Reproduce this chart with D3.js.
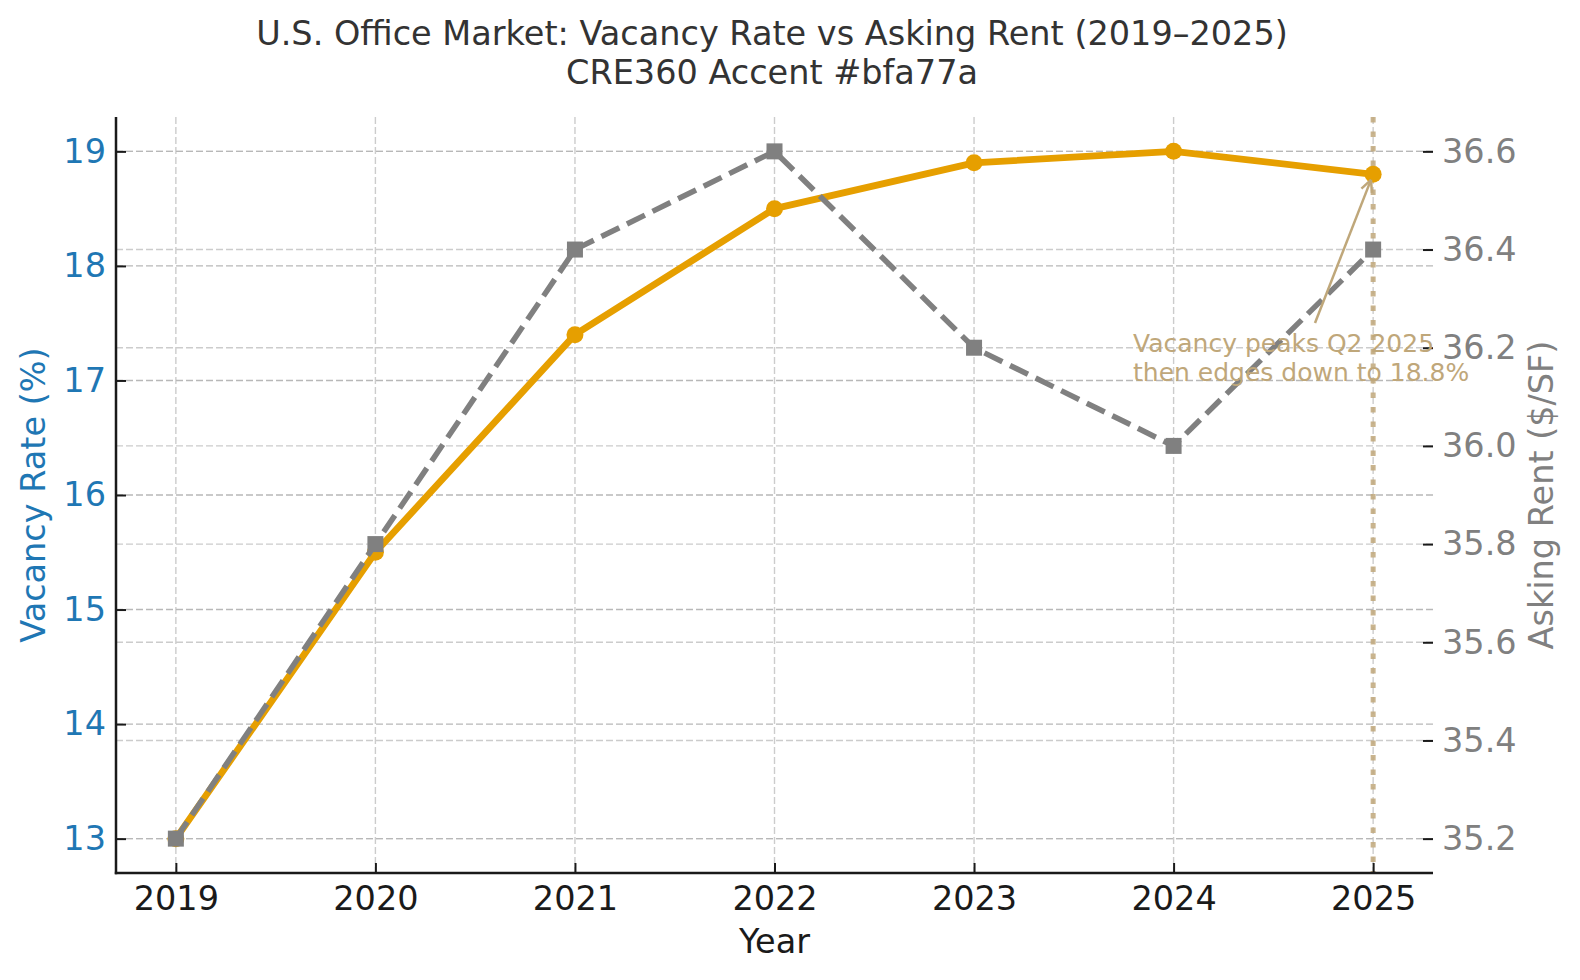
<!DOCTYPE html>
<html>
<head>
    <meta charset="utf-8">
    <title>U.S. Office Market: Vacancy Rate vs Asking Rent</title>
    <script src="https://cdn.jsdelivr.net/npm/d3@7"></script>
    <style>
        body { margin: 0; background: #fff; }
        svg { font-family: "DejaVu Sans", sans-serif; }
    </style>
</head>
<body>
<script>
    // data
    var years = [2019, 2020, 2021, 2022, 2023, 2024, 2025];
    var vacancy = [13.0, 15.5, 17.4, 18.5, 18.9, 19.0, 18.8];
    var rent = [35.2, 35.8, 36.4, 36.6, 36.2, 36.0, 36.4];
    var vacancyTicks = [13, 14, 15, 16, 17, 18, 19];
    var rentTicks = [35.2, 35.4, 35.6, 35.8, 36.0, 36.2, 36.4, 36.6];
    var noteLines = ['Vacancy peaks Q2 2025', 'then edges down to 18.8%'];
    var noteYear = 2025, noteValue = 18.8;

    var width = 1580, height = 980;
    var m = {left: 116, right: 1433, top: 117, bottom: 873};
    var accent = '#bfa77a', orange = '#e69f00', grey = '#808080', blue = '#1f77b4';
    var fs = 33.5;

    var svg = d3.select('body').append('svg').attr('width', width).attr('height', height);

    var x = d3.scaleLinear().domain([2018.7, 2025.3]).range([m.left, m.right]);
    var yL = d3.scaleLinear().domain([12.7, 19.3]).range([m.bottom, m.top]);
    var yR = d3.scaleLinear().domain([35.13, 36.67]).range([m.bottom, m.top]);

    //网格线
    var grid = svg.append('g').attr('fill', 'none').attr('stroke-width', 1.4).attr('stroke-dasharray', '7,3');
    grid.selectAll('.gx').data(years).enter().append('line')
        .attr('x1', function (d) { return x(d); }).attr('x2', function (d) { return x(d); })
        .attr('y1', m.top).attr('y2', m.bottom).attr('stroke', '#cccccc');
    grid.selectAll('.gr').data(rentTicks).enter().append('line')
        .attr('x1', m.left).attr('x2', m.right)
        .attr('y1', function (d) { return yR(d); }).attr('y2', function (d) { return yR(d); })
        .attr('stroke', '#cccccc');
    grid.selectAll('.gl').data(vacancyTicks).enter().append('line')
        .attr('x1', m.left).attr('x2', m.right)
        .attr('y1', function (d) { return yL(d); }).attr('y2', function (d) { return yL(d); })
        .attr('stroke', '#b8b8b8');

    // 2025 marker line
    svg.append('line')
        .attr('x1', x(noteYear)).attr('x2', x(noteYear))
        .attr('y1', m.top).attr('y2', m.bottom)
        .attr('stroke', accent).attr('stroke-opacity', 0.85)
        .attr('stroke-width', 5).attr('stroke-dasharray', '5.5,9');

    // axes
    function styleAxis(g, color) {
        g.select('.domain').remove();
        g.selectAll('.tick line').attr('stroke', '#1a1a1a').attr('stroke-width', 2);
        g.selectAll('.tick text').attr('fill', color).attr('font-size', fs)
            .attr('font-family', '"DejaVu Sans", sans-serif');
    }

    var gx = svg.append('g').attr('transform', 'translate(0,' + m.bottom + ')')
        .call(d3.axisBottom(x).tickValues(years).tickFormat(d3.format('d')).tickSize(-10).tickPadding(13));
    styleAxis(gx, '#1a1a1a');

    var gl = svg.append('g').attr('transform', 'translate(' + m.left + ',0)')
        .call(d3.axisLeft(yL).tickValues(vacancyTicks).tickFormat(d3.format('d')).tickSize(-10).tickPadding(10));
    styleAxis(gl, blue);

    var gr = svg.append('g').attr('transform', 'translate(' + m.right + ',0)')
        .call(d3.axisRight(yR).tickValues(rentTicks).tickFormat(d3.format('.1f')).tickSize(-10).tickPadding(9));
    styleAxis(gr, grey);

    // spines (left + bottom only)
    svg.append('line').attr('x1', m.left).attr('x2', m.left).attr('y1', m.top).attr('y2', m.bottom + 1.2)
        .attr('stroke', '#1a1a1a').attr('stroke-width', 2.5);
    svg.append('line').attr('x1', m.left - 1.2).attr('x2', m.right).attr('y1', m.bottom).attr('y2', m.bottom)
        .attr('stroke', '#1a1a1a').attr('stroke-width', 2.5);

    // vacancy line
    var vacLine = d3.line().x(function (d, i) { return x(years[i]); }).y(function (d) { return yL(d); });
    svg.append('path').datum(vacancy).attr('d', vacLine)
        .attr('fill', 'none').attr('stroke', orange).attr('stroke-width', 6.8).attr('stroke-linejoin', 'round');
    svg.selectAll('.vdot').data(vacancy).enter().append('circle')
        .attr('cx', function (d, i) { return x(years[i]); })
        .attr('cy', function (d) { return yL(d); })
        .attr('r', 8.5).attr('fill', orange);

    // rent line
    var rentLine = d3.line().x(function (d, i) { return x(years[i]); }).y(function (d) { return yR(d); });
    svg.append('path').datum(rent).attr('d', rentLine)
        .attr('fill', 'none').attr('stroke', grey).attr('stroke-width', 5.5).attr('stroke-dasharray', '20,8.5');
    svg.selectAll('.rsq').data(rent).enter().append('rect')
        .attr('x', function (d, i) { return x(years[i]) - 8; })
        .attr('y', function (d) { return yR(d) - 8; })
        .attr('width', 16).attr('height', 16).attr('fill', grey);

    // annotation
    var tx = 1133, ty = 352;
    svg.append('text').attr('x', tx).attr('y', ty).attr('fill', accent).attr('font-size', 25)
        .selectAll('tspan').data(noteLines).enter().append('tspan')
        .attr('x', tx).attr('dy', function (d, i) { return i ? 28.5 : 0; })
        .text(function (d) { return d; });

    var sx = 1315, sy = 323;
    var px = x(noteYear), py = yL(noteValue);
    var ang = Math.atan2(py - sy, px - sx);
    var ex = px - 6 * Math.cos(ang), ey = py - 6 * Math.sin(ang);
    var arrow = svg.append('g').attr('stroke', accent).attr('stroke-width', 2.5).attr('fill', 'none');
    arrow.append('line').attr('x1', sx).attr('y1', sy).attr('x2', ex).attr('y2', ey);
    [-0.45, 0.45].forEach(function (a) {
        arrow.append('line').attr('x1', ex).attr('y1', ey)
            .attr('x2', ex - 13 * Math.cos(ang + a)).attr('y2', ey - 13 * Math.sin(ang + a));
    });

    // titles and axis labels
    svg.append('text').attr('x', 772).attr('y', 45).attr('text-anchor', 'middle')
        .attr('font-size', 33.5).attr('fill', '#333333')
        .text('U.S. Office Market: Vacancy Rate vs Asking Rent (2019–2025)');
    svg.append('text').attr('x', 772).attr('y', 84).attr('text-anchor', 'middle')
        .attr('font-size', 33.5).attr('fill', '#333333')
        .text('CRE360 Accent #bfa77a');

    svg.append('text').attr('x', (m.left + m.right) / 2).attr('y', 953).attr('text-anchor', 'middle')
        .attr('font-size', fs).attr('fill', '#1a1a1a').text('Year');
    svg.append('text').attr('transform', 'translate(45,' + (m.top + m.bottom) / 2 + ') rotate(-90)')
        .attr('text-anchor', 'middle').attr('font-size', fs).attr('fill', blue).text('Vacancy Rate (%)');
    svg.append('text').attr('transform', 'translate(1553,' + (m.top + m.bottom) / 2 + ') rotate(-90)')
        .attr('text-anchor', 'middle').attr('font-size', fs).attr('fill', grey).text('Asking Rent ($/SF)');
</script>
</body>
</html>
